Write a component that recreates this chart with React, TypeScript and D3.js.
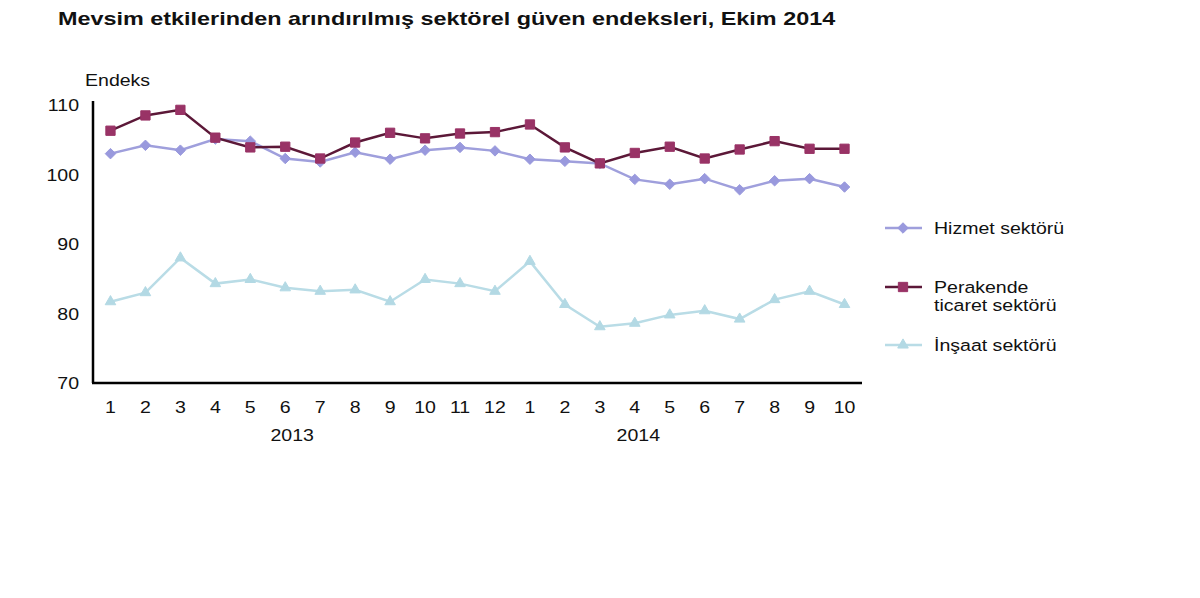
import React from 'react';
import * as d3 from 'd3';

// months shown on the x axis (2013: 1-12, 2014: 1-10)
const months = ['1', '2', '3', '4', '5', '6', '7', '8', '9', '10', '11', '12',
  '1', '2', '3', '4', '5', '6', '7', '8', '9', '10'];
const years = [
  { label: '2013', at: 5.2 },
  { label: '2014', at: 15.1 },
];

const hizmet = [103.0, 104.2, 103.5, 105.1, 104.8, 102.3, 101.8, 103.2, 102.2, 103.5, 103.9,
  103.4, 102.2, 101.9, 101.6, 99.3, 98.6, 99.4, 97.8, 99.1, 99.4, 98.2];
const perakende = [106.3, 108.5, 109.3, 105.3, 103.9, 104.0, 102.3, 104.6, 106.0, 105.2, 105.9,
  106.1, 107.2, 103.9, 101.6, 103.1, 104.0, 102.3, 103.6, 104.8, 103.7, 103.7];
const insaat = [81.7, 83.0, 88.0, 84.3, 84.9, 83.7, 83.2, 83.4, 81.7, 84.9, 84.3,
  83.2, 87.5, 81.3, 78.1, 78.6, 79.8, 80.4, 79.2, 82.0, 83.2, 81.3];

const yTicks = [70, 80, 90, 100, 110];

const series = [
  { name: ['Hizmet sektörü'], values: hizmet, line: '#9f9fdc', fill: '#9999dd', symbol: d3.symbolDiamond2, size: 70, legendY: 228 },
  { name: ['Perakende', 'ticaret sektörü'], values: perakende, line: '#5c1838', fill: '#993366', symbol: d3.symbolSquare2, size: 110, legendY: 287 },
  { name: ['İnşaat sektörü'], values: insaat, line: '#b9dce6', fill: '#b3d9e4', symbol: d3.symbolTriangle2, size: 80, legendY: 345 },
];

const margin = { left: 93, right: 338, top: 105, bottom: 215 };
const W = 1200;
const H = 598;

// the original text is a bit wider than the fonts we have, so stretch it horizontally
const T = ({ x, y, size = 17, sx = 1.15, anchor = 'start', bold = false, children }: any) => (
  <text transform={`translate(${x},${y}) scale(${sx},1)`} fontSize={size} textAnchor={anchor}
    fontWeight={bold ? 'bold' : 'normal'} fill="#111">{children}</text>
);

export default function App() {
  const x = d3.scaleBand<number>()
    .domain(d3.range(months.length))
    .range([margin.left, W - margin.right]);
  const y = d3.scaleLinear().domain([70, 110]).range([H - margin.bottom, margin.top]);
  const cx = (i: number) => (x(i) as number) + x.bandwidth() / 2;
  const at = (k: number) => margin.left + x.step() * (k + 0.5);

  const font = 'Liberation Sans, Arial, sans-serif';

  return (
    <svg width={W} height={H} style={{ position: 'absolute', left: 0, top: 0, background: '#fff' }}
      fontFamily={font}>
      <T x={58} y={25} size={18} sx={1.3} bold>
        Mevsim etkilerinden arındırılmış sektörel güven endeksleri, Ekim 2014
      </T>
      <T x={85} y={86}>Endeks</T>

      {yTicks.map(t => (
        <T key={t} x={79} y={y(t) + 6} anchor="end">{t}</T>
      ))}

      {series.map(s => {
        const line = d3.line<number>().x((d, i) => cx(i)).y(d => y(d));
        const sym = d3.symbol().type(s.symbol).size(s.size)()!;
        return (
          <g key={s.name[0]}>
            <path d={line(s.values)!} fill="none" stroke={s.line} strokeWidth={2.5} />
            {s.values.map((v, i) => (
              <path key={i} d={sym} transform={`translate(${cx(i)},${y(v)})`} fill={s.fill}
                stroke={s.fill} strokeWidth={1} />
            ))}
            <line x1={885} x2={922} y1={s.legendY} y2={s.legendY} stroke={s.line} strokeWidth={2.5} />
            <path d={sym} transform={`translate(903,${s.legendY})`} fill={s.fill} stroke={s.fill} />
            {s.name.map((n, k) => (
              <T key={n} x={934} y={s.legendY + 6 + k * 18}>{n}</T>
            ))}
          </g>
        );
      })}

      <line x1={margin.left} x2={margin.left} y1={margin.top - 4} y2={y(70)} stroke="#000" strokeWidth={2.5} />
      <line x1={margin.left - 1} x2={W - margin.right} y1={y(70)} y2={y(70)} stroke="#000" strokeWidth={2.5} />

      {months.map((m, i) => (
        <T key={i} x={cx(i)} y={y(70) + 30} anchor="middle">{m}</T>
      ))}
      {years.map(yr => (
        <T key={yr.label} x={at(yr.at)} y={y(70) + 58} anchor="middle">{yr.label}</T>
      ))}
    </svg>
  );
}
